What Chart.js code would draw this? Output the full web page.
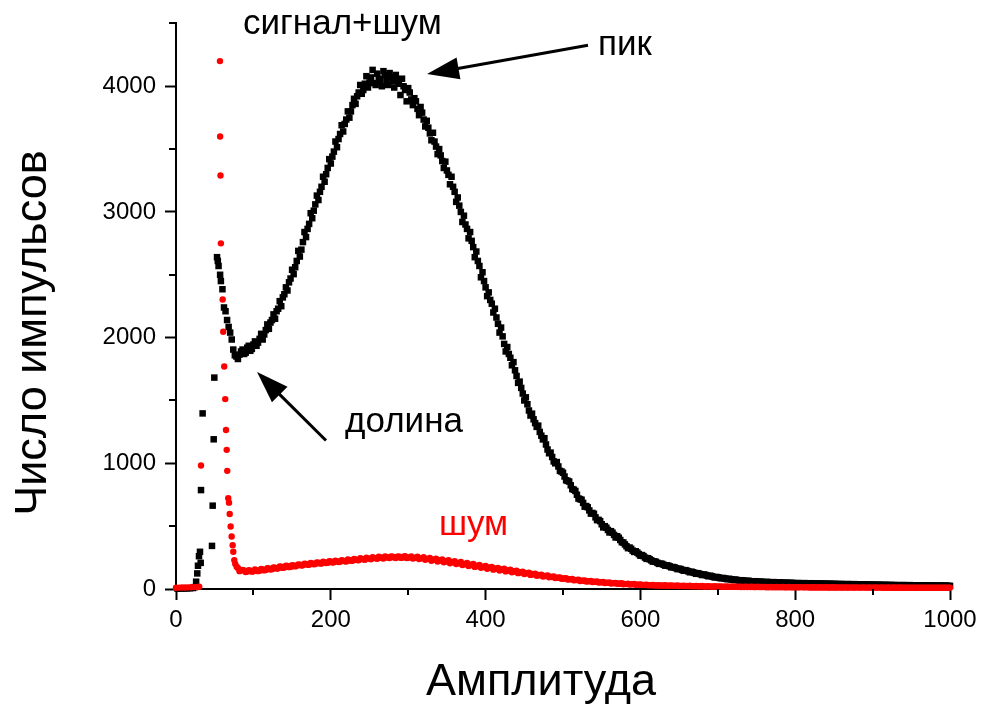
<!DOCTYPE html>
<html><head><meta charset="utf-8">
<script src="https://cdn.jsdelivr.net/npm/chart.js@4.4.0/dist/chart.umd.min.js"></script>
<style>html,body{margin:0;padding:0;background:#fff;}canvas{display:block;}</style>
</head><body>
<canvas id="c" width="984" height="704"></canvas>
<script>
// ---- tick labels ----
const xTickValues = [0, 200, 400, 600, 800, 1000];
const yTickValues = [0, 1000, 2000, 3000, 4000];
const xMinorTicks = [100, 300, 500, 700, 900];
const yMinorTicks = [500, 1500, 2500, 3500, 4500];

// ---- "сигнал+шум" (black squares) ----
const signalLowX = [2, 6, 10, 14, 18, 22, 24, 26, 27.5, 28.4, 29.7, 31, 31.9, 32.3, 34.4, 46.5, 47.4, 48.7, 49.5, 53, 54, 55, 57, 58];
const signalLowY = [3, 4, 4, 5, 6, 8, 15, 58, 124, 185, 261, 296, 208, 787, 1397, 343, 663, 1191, 1682, 2640, 2610, 2570, 2500, 2450];
const signalStartX = 60, signalStepX = 4;
const signalY = [
  2385,2210,2085,1985,1860,1830,1890,1870,1920,1895,
  1945,1935,1990,1985,2060,2070,2140,2150,2230,2250,
  2345,2375,2470,2505,2610,2645,2760,2800,2905,2950,
  3060,3095,3200,3240,3350,3385,3480,3515,3620,3640,
  3735,3750,3850,3860,3950,3940,4020,3990,4070,4025,
  4100,4040,4120,4045,4105,4040,4090,4020,4060,3970,
  3985,3895,3905,3820,3835,3735,3725,3625,3630,3520,
  3500,3405,3400,3295,3280,3160,3115,3000,2970,2865,
  2840,2720,2685,2570,2520,2400,2360,2270,2230,2110,
  2080,1950,1925,1840,1805,1695,1650,1555,1525,1420,
  1395,1320,1300,1220,1200,1110,1085,1015,1010,940,
  925,865,855,795,780,720,710,655,650,600,
  598,548,540,490,488,450,448,410,408,372,
  355,325,320,295,290,265,262,240,236,218,
  216,200,200,186,186,172,172,158,158,145,
  146,133,133,121,122,111,112,101,102,92,
  93,85,86,78,79,72,73,67,69,63,
  65,59,62,56,59,54,57,52,55,50,
  53,49,51,47,50,46,48,45,47,44,
  46,43,45,42,44,41,43,40,42,39,
  41,38,40,37,39,36,38,35,37,34,
  36,33,35,32,34,31,33,31,32,30,
  32,29,31,29,30,28,30,27,29,27,
  28,26,28,26,27,25
];
// second interleaved reading of the same curve (x = 62, 66, ...)
const signalStartX2 = 62;
const signalY2 = [
  2240,2140,2040,1905,1850,1865,1905,1880,1935,1910,
  1970,1960,2030,2025,2105,2120,2185,2210,2290,2320,
  2400,2440,2540,2560,2690,2700,2840,2865,2990,3010,
  3130,3160,3280,3300,3420,3440,3560,3580,3690,3700,
  3800,3800,3900,3920,4010,3970,4080,4030,4130,4010,
  4060,4000,4090,4010,4070,3990,4050,3930,4000,3880,
  3950,3850,3880,3770,3790,3680,3670,3570,3560,3460,
  3450,3350,3330,3220,3200,3080,3050,2920,2900,2790,
  2770,2640,2610,2480,2450,2330,2300,2200,2160,2040,
  2010,1890,1870,1780,1740,1640,1600,1500,1470,1380,
  1350,1290,1250,1190,1150,1080,1050,1000,975,935,
  895,860,825,790,750,715,685,660,625,605,
  570,550,515,500,470,460,430,420,390,370,
  340,330,305,300,278,270,250,245,228,220,
  208,202,193,188,180,175,166,162,152,150,
  140,138,128,126,117,116,107,106,97,96,
  89,88,82,81,75,75,70,70,65,65,
  61,61,58,58,55,55,53,53,51,51,
  49,49,48,48,46,46,45,45,43,43,
  42,42,41,41,40,40,39,39,38,38,
  37,37,36,36,35,35,34,34,33,33,
  32,32,31,31,31,31,30,30,29,29,
  28,28,28,28,27,27,26,26,26,26,
  25,25,25,25,24
];

// ---- "шум" (red circles) ----
const noiseLowX = [0, 4, 8, 12, 16, 20, 24, 28, 30, 32.3, 56.8, 57, 57.5, 58, 60.3, 61, 62.3, 63.6, 64.6, 65.5, 66.2, 67.5, 68.5, 69.4, 70.6, 71.9, 73.2, 74, 75.3, 76.5, 78.4];
const noiseLowY = [10, 11, 12, 12, 13, 14, 15, 16, 18, 983, 4200, 3600, 3290, 2750, 2303, 2047, 1770, 1511, 1265, 1107, 940, 723, 687, 597, 497, 418, 349, 296, 230, 200, 177];
const noiseStartX = 80, noiseStepX = 4;
const noiseY = [
  168,150,147,139,146,141,150,146,156,152,
  164,158,170,165,178,172,183,176,188,184,
  194,188,200,193,204,198,210,203,214,208,
  219,212,222,216,226,219,231,224,235,228,
  240,232,244,236,248,240,252,243,255,246,
  256,247,258,249,260,248,259,247,257,244,
  253,240,248,234,242,229,236,222,229,215,
  222,208,215,200,207,193,199,186,191,178,
  184,171,176,163,168,156,161,148,153,141,
  146,134,138,126,130,119,122,111,114,104,
  107,97,99,90,92,84,85,77,79,71,
  74,67,69,62,65,58,60,54,56,50,
  53,47,49,44,46,41,43,38,40,35,
  37,33,35,31,33,29,31,28,30,27,
  29,26,28,25,27,24,26,23,25,22,
  24,21,23,20,22,20,21,19,21,18,
  20,18,19,17,19,17,18,16,18,16,
  17,15,17,15,16,15,16,14,16,14,
  15,14,15,13,15,13,14,13,14,13,
  14,12,14,12,13,12,13,12,13,12,
  13,11,13,11,12,11,12,11,12,11,
  12,11,12,10,12,10,11,10,11,10,
  11,10,11,10,11,10,11,10,11,10,
  11
];
// second interleaved reading (x = 82, 86, ...)
const noiseStartX2 = 82;
const noiseY2 = [
  142,152,135,150,138,155,142,160,148,166,
  155,172,162,180,168,186,174,190,180,196,
  186,202,192,208,196,212,202,218,206,222,
  210,226,214,230,220,236,224,240,230,245,
  236,250,240,254,244,256,246,258,248,258,
  250,257,249,256,246,254,242,250,238,246,
  232,240,225,233,218,226,212,219,204,212,
  198,205,190,197,183,190,176,182,169,175,
  161,168,154,160,147,153,140,146,133,139,
  126,132,119,125,112,117,106,110,100,103,
  94,96,88,89,82,83,76,78,70,72,
  64,66,60,61,56,57,52,53,48,49,
  44,45,41,42,38,39,36,37,34,34,
  32,32,30,30,28,28,27,27,26,26,
  25,25,24,24,23,23,22,22,21,21,
  20,20,19,19,19,19,18,18,17,17,
  17,17,16,16,16,16,15,15,15,15,
  14,14,14,14,14,14,13,13,13,13,
  13,13,13,13,12,12,12,12,12,12,
  12,12,12,12,11,11,11,11,11,11,
  11,11,11,11,11,11,11,11,10,10,
  10,10,10,10,10,10,10,10,10,10,
  10,10,10,10,10,10,10,10,10,10
];

// ---- annotations (data coordinates) ----
const noteTexts = ['сигнал+шум', 'пик', 'долина', 'шум'];
const noteX = [215, 580, 294.6, 384.4];
const noteY = [4416, 4245, 1246, 428];
const noteColors = ['#000000', '#000000', '#000000', '#ff0000'];
const arrowFromX = [532.3, 193.8];
const arrowFromY = [4326, 1181];
const arrowToX = [324.3, 104.7];
const arrowToY = [4097, 1727];

const FONT = "'Liberation Sans', Arial, sans-serif";

function buildPoints(lowX, lowY, series) {
  const pts = lowX.map((x, i) => ({x: x, y: lowY[i]}));
  series.forEach(s => s.ys.forEach((v, i) => pts.push({x: s.start + s.step * i, y: v})));
  return pts;
}

const overlay = {
  id: 'overlay',
  afterDraw(chart) {
    const ctx = chart.ctx;
    const xs = chart.scales.x, ys = chart.scales.y;
    const area = chart.chartArea;
    ctx.save();
    ctx.strokeStyle = '#000';
    ctx.lineWidth = 2;
    ctx.beginPath();
    xMinorTicks.forEach(v => {
      const px = Math.round(xs.getPixelForValue(v));
      ctx.moveTo(px, area.bottom); ctx.lineTo(px, area.bottom + 6);
    });
    yMinorTicks.forEach(v => {
      const py = Math.round(ys.getPixelForValue(v));
      ctx.moveTo(area.left, py); ctx.lineTo(area.left - 7, py);
    });
    ctx.stroke();

    ctx.textAlign = 'center';
    ctx.textBaseline = 'alphabetic';
    ctx.font = '35px ' + FONT;
    noteTexts.forEach((t, i) => {
      ctx.fillStyle = noteColors[i];
      ctx.fillText(t, xs.getPixelForValue(noteX[i]), ys.getPixelForValue(noteY[i]));
    });

    ctx.fillStyle = '#000';
    ctx.strokeStyle = '#000';
    ctx.lineWidth = 3;
    arrowFromX.forEach((fx, i) => {
      const x0 = xs.getPixelForValue(fx), y0 = ys.getPixelForValue(arrowFromY[i]);
      const x1 = xs.getPixelForValue(arrowToX[i]), y1 = ys.getPixelForValue(arrowToY[i]);
      const dx = x1 - x0, dy = y1 - y0, len = Math.hypot(dx, dy);
      const ux = dx / len, uy = dy / len;
      const head = 32, half = 11;
      const bx = x1 - ux * head, by = y1 - uy * head;
      ctx.beginPath();
      ctx.moveTo(x0, y0); ctx.lineTo(bx + ux * 2, by + uy * 2);
      ctx.stroke();
      ctx.beginPath();
      ctx.moveTo(x1, y1);
      ctx.lineTo(bx - uy * half, by + ux * half);
      ctx.lineTo(bx + uy * half, by - ux * half);
      ctx.closePath();
      ctx.fill();
    });

    ctx.fillStyle = '#000';
    ctx.font = '45px ' + FONT;
    ctx.textAlign = 'center';
    ctx.textBaseline = 'alphabetic';
    ctx.fillText('Амплитуда', 541, 695);
    ctx.translate(46, 333);
    ctx.rotate(-Math.PI / 2);
    ctx.fillText('Число импульсов', 0, 0);
    ctx.restore();
  }
};

new Chart(document.getElementById('c'), {
  type: 'scatter',
  data: {
    datasets: [
      {
        label: 'шум',
        data: buildPoints(noiseLowX, noiseLowY, [
          {start: noiseStartX, step: noiseStepX, ys: noiseY},
          {start: noiseStartX2, step: noiseStepX, ys: noiseY2}
        ]),
        pointStyle: 'circle',
        pointRadius: 3.2,
        pointBackgroundColor: '#ff0000',
        pointBorderWidth: 0,
        borderColor: '#ff0000',
        showLine: false,
        clip: false
      },
      {
        label: 'сигнал+шум',
        data: buildPoints(signalLowX, signalLowY, [
          {start: signalStartX, step: signalStepX, ys: signalY},
          {start: signalStartX2, step: signalStepX, ys: signalY2}
        ]),
        pointStyle: 'rect',
        pointRadius: 4.6,
        pointBackgroundColor: '#000000',
        pointBorderWidth: 0,
        borderColor: '#000000',
        showLine: false,
        clip: false
      }
    ]
  },
  options: {
    responsive: false,
    animation: false,
    events: [],
    layout: {padding: {left: 0, right: 34, top: 20, bottom: 0}},
    plugins: {legend: {display: false}, tooltip: {enabled: false}},
    scales: {
      x: {
        type: 'linear',
        min: 0, max: 1000,
        afterFit: s => { s.height = 115; },
        afterBuildTicks: s => { s.ticks = xTickValues.map(v => ({value: v})); },
        border: {display: true, color: '#000', width: 2},
        grid: {drawOnChartArea: false, drawTicks: true, tickLength: 11, tickColor: '#000', tickWidth: 2},
        ticks: {color: '#000', font: {family: FONT, size: 24}, padding: 6, maxRotation: 0, autoSkip: false,
                callback: v => String(v)}
      },
      y: {
        type: 'linear',
        min: 0, max: 4500,
        afterFit: s => { s.width = 176; },
        afterBuildTicks: s => { s.ticks = yTickValues.map(v => ({value: v})); },
        border: {display: true, color: '#000', width: 2},
        grid: {drawOnChartArea: false, drawTicks: true, tickLength: 11, tickColor: '#000', tickWidth: 2},
        ticks: {color: '#000', font: {family: FONT, size: 24}, padding: 9, autoSkip: false,
                callback: v => String(v)}
      }
    }
  },
  plugins: [overlay]
});
</script>
</body></html>
